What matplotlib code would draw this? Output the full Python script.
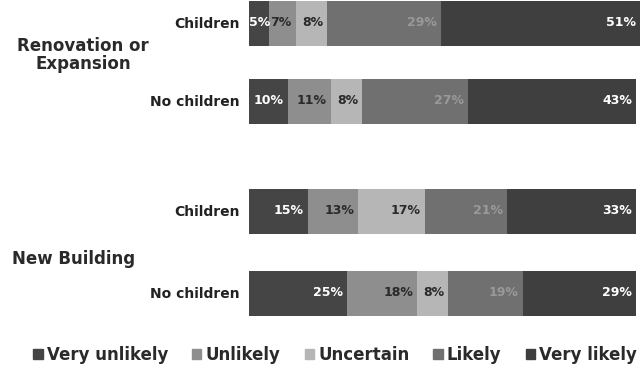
import numpy as np
import matplotlib.pyplot as plt
from matplotlib.patches import Patch

plt.rcParams["font.family"] = ["DejaVu Sans"]

# survey shares (%) per response, one row per bar (top to bottom)
responses = ["Very unlikely", "Unlikely", "Uncertain", "Likely", "Very likely"]
rows = ["Children", "No children", "Children", "No children"]
groups = ["Renovation or\nExpansion", "New Building"]
very_unlikely = [5, 10, 15, 25]
unlikely = [7, 11, 13, 18]
uncertain = [8, 8, 17, 8]
likely = [29, 27, 21, 19]
very_likely = [51, 43, 33, 29]

colors = ["#454545", "#8e8e8e", "#b6b6b6", "#707070", "#3f3f3f"]
text_colors = ["white", "#2a2a2a", "#2a2a2a", "#999999", "white"]

# vertical layout (pixel-like units, top = 0)
ypos = [23, 101, 211, 293]
bar_h = 45

fig = plt.figure(figsize=(6.42, 3.68), dpi=100)
ax = fig.add_axes([249 / 642, 1 - 320 / 368, 391 / 642, 320 / 368])

series = [very_unlikely, unlikely, uncertain, likely, very_likely]
left = np.zeros(len(rows))
for vals, col, tcol in zip(series, colors, text_colors):
    vals = np.array(vals, dtype=float)
    ax.barh(ypos, vals, height=bar_h, left=left, color=col, edgecolor="none")
    for y, l, v in zip(ypos, left, vals):
        if l == 0 and v < 6:
            # too narrow: keep the label inside the bar start
            ax.annotate(f"{int(v)}%", xy=(l, y), xytext=(0, 0),
                        textcoords="offset points", ha="left", va="center",
                        fontsize=9, fontweight="bold", color=tcol)
            continue
        ax.annotate(f"{int(v)}%", xy=(l + v, y), xytext=(-3, 0),
                    textcoords="offset points", ha="right", va="center",
                    fontsize=9, fontweight="bold", color=tcol,
                    annotation_clip=False)
    left += vals

ax.set_xlim(0, 100)
ax.set_ylim(320, 0)
ax.set_yticks(ypos)
ax.set_yticklabels(rows, fontsize=10, fontweight="bold", color="#222222")
ax.tick_params(axis="y", length=0, pad=7)
ax.set_xticks([])
for s in ax.spines.values():
    s.set_visible(False)

# group captions on the left
fig.text(83 / 642, 1 - 55 / 368, groups[0], ha="center", va="center",
         fontsize=12, fontweight="bold", color="#2a2a2a", linespacing=1.05)
fig.text(12 / 642, 1 - 259 / 368, groups[1], ha="left", va="center",
         fontsize=12, fontweight="bold", color="#2a2a2a")

handles = [Patch(color=c, label=r) for c, r in zip(colors, responses)]
fig.legend(handles=handles, loc="center", bbox_to_anchor=(0.522, 1 - 355 / 368),
           ncol=5, frameon=False, handlelength=0.55, handleheight=0.55,
           handletextpad=0.25, columnspacing=1.45,
           labelcolor="#2a2a2a", prop={"weight": "bold", "size": 12})

fig.savefig("out.png", dpi=100)
